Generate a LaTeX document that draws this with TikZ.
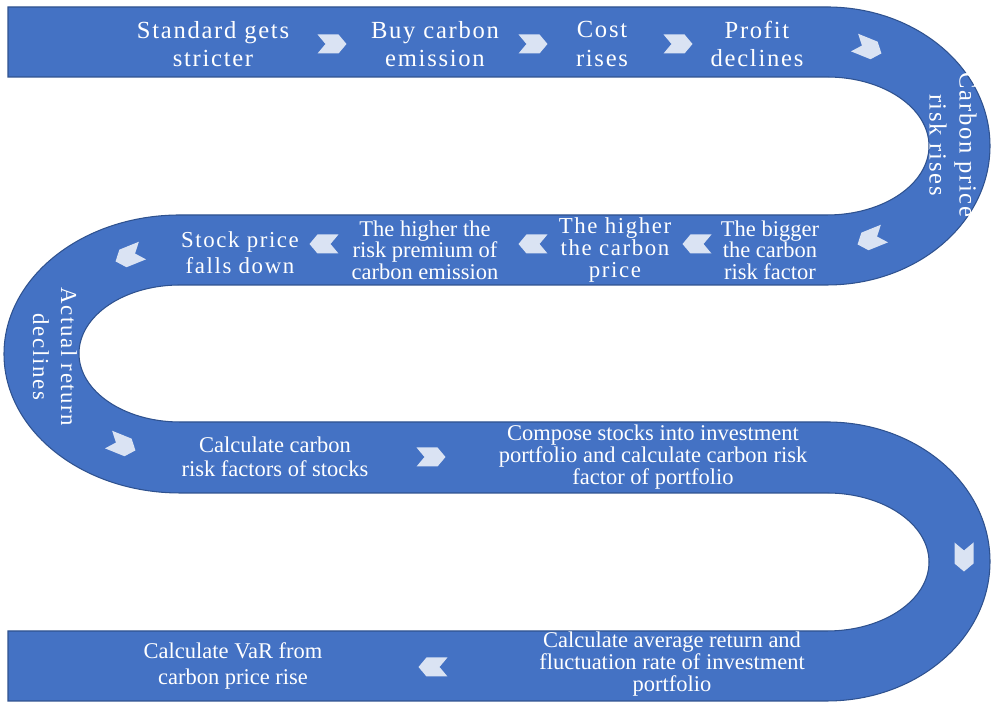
\documentclass[tikz,border=0pt]{standalone}
\usepackage{fontspec}
\setmainfont{Liberation Serif}
\newfontfamily\widefont[LetterSpace=7]{Liberation Serif}
\usetikzlibrary{shapes.symbols}
\definecolor{bandblue}{HTML}{4472C4}
\definecolor{bandedge}{HTML}{2F528F}
\definecolor{chevfill}{HTML}{DAE3F3}

\begin{document}
\begin{tikzpicture}[x=0.02cm,y=0.02cm,
  band/.style={fill=bandblue,draw=bandedge,line width=0.6pt},
  lbl/.style={text=white,align=center,inner sep=1pt,font=\fontsize{12.8}{12.3}\selectfont},
  widelbl/.style={text=white,align=center,inner sep=1pt,font=\widefont\fontsize{13}{15}\selectfont},
  chev/.style={signal,signal pointer angle=100,fill=chevfill,minimum width=0.58cm,minimum height=0.38cm,inner sep=0pt},
  chevr/.style={chev,signal to=east,signal from=west},
  chevl/.style={chev,signal to=west,signal from=east}]
\useasboundingbox (0,0) rectangle (992,702);
% serpentine band
\draw[band] (8,695) -- (827,695) arc[start angle=90,end angle=-90,x radius=163,y radius=139]
  -- (180,417) arc[start angle=90,end angle=270,x radius=101,y radius=68.5]
  -- (827,280) arc[start angle=90,end angle=-90,x radius=163,y radius=139.5]
  -- (8,1) -- (8,71) -- (827,71) arc[start angle=-90,end angle=90,x radius=102,y radius=69]
  -- (180,209) arc[start angle=270,end angle=90,x radius=176,y radius=139]
  -- (827,487) arc[start angle=-90,end angle=90,x radius=102,y radius=69]
  -- (8,625) -- cycle;
% row 1
\node[widelbl,font=\widefont\fontsize{14}{16}\selectfont] (std) at (213,658) {Standard gets\\stricter};
\node[widelbl,font=\widefont\fontsize{14}{16}\selectfont] (buy) at (435,658) {Buy carbon\\emission};
\node[widelbl,font=\widefont\fontsize{14}{16}\selectfont] (cost) at (602,658) {Cost\\rises};
\node[widelbl,font=\widefont\fontsize{14}{16}\selectfont] (prof) at (757,658) {Profit\\declines};
\node[chevr] (ch1) at (332,658) {};
\node[chevr] (ch2) at (533,658) {};
\node[chevr] (ch3) at (678,658) {};
\node[chevr,rotate=-22] (ch4) at (868,654) {};
\node[widelbl,font=\widefont\fontsize{14}{17}\selectfont,rotate=-90] (carb) at (953,557) {Carbon price\\risk rises};
% row 2
\node[chevl,rotate=22] (ch5) at (871,463) {};
\node[lbl] (big) at (770,452) {The bigger\\the carbon\\risk factor};
\node[chevl] (ch6) at (697,458) {};
\node[widelbl,font=\widefont\fontsize{13}{12.3}\selectfont] (hcp) at (615,452) {The higher\\the carbon\\price};
\node[chevl] (ch7) at (533,458) {};
\node[lbl] (hrp) at (425,452) {The higher the\\risk premium of\\carbon emission};
\node[chevl] (ch8) at (324,458) {};
\node[widelbl] (stk) at (240,449) {Stock price\\falls down};
\node[chevl,rotate=22] (ch9) at (129,446) {};
\node[widelbl,font=\widefont\fontsize{13}{16}\selectfont,rotate=-90] (act) at (55,345) {Actual return\\declines};
% row 3
\node[chevr,rotate=-22] (ch10) at (122,257) {};
\node[lbl,font=\fontsize{12.8}{13.6}\selectfont] (crf) at (275,245) {Calculate carbon\\risk factors of stocks};
\node[chevr] (ch11) at (431,245) {};
\node[lbl] (cmp) at (653,245) {Compose stocks into investment\\portfolio and calculate carbon risk\\factor of portfolio};
\node[chevr,rotate=-90] (ch12) at (964,145) {};
% row 4
\node[lbl] (avg) at (672,38) {Calculate average return and\\fluctuation rate of investment\\portfolio};
\node[chevl] (ch13) at (433,35) {};
\node[lbl,font=\fontsize{12.8}{15.3}\selectfont] (var) at (233,36) {Calculate VaR from\\carbon price rise};
\end{tikzpicture}
\end{document}
